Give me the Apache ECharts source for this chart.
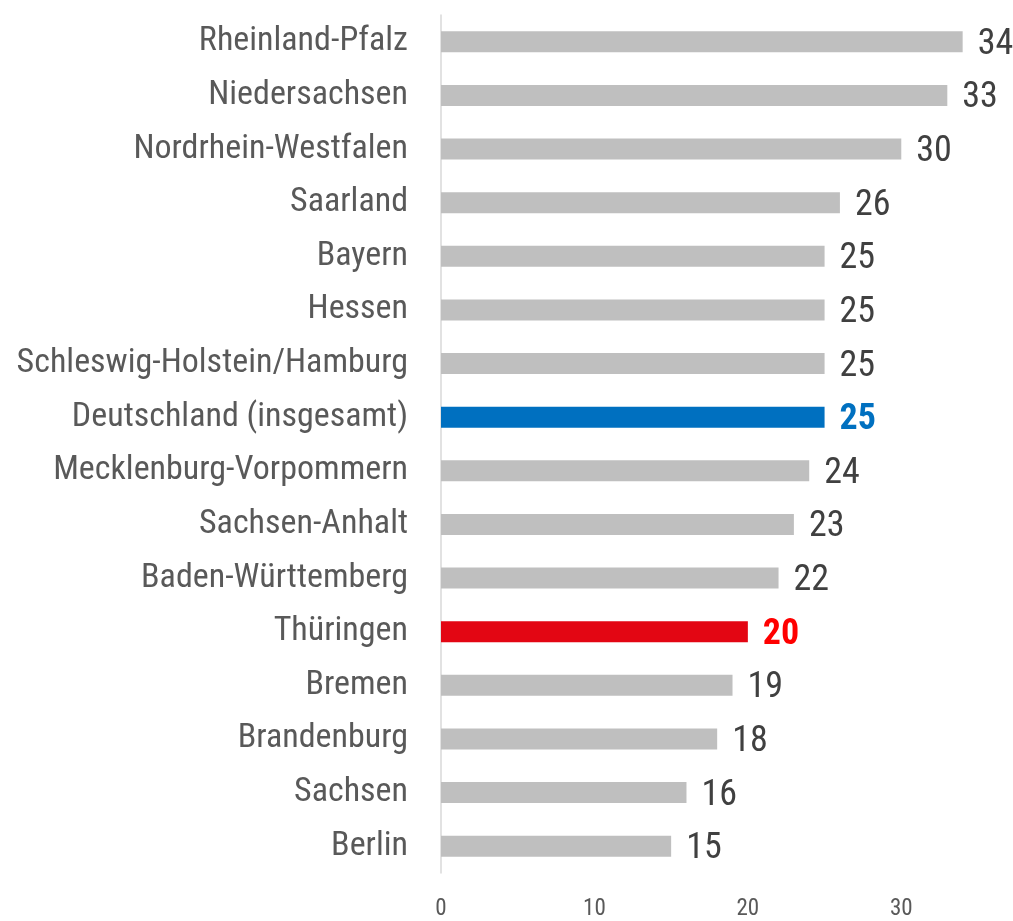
<!DOCTYPE html>
<html>
<head>
<meta charset="utf-8">
<title>Bundesländer</title>
<style>
  * { margin: 0; padding: 0; box-sizing: border-box; }
  body { width: 1013px; height: 921px; background: #ffffff; overflow: hidden; }
  #chart { width: 1013px; height: 921px; }
</style>
<script src="https://cdn.jsdelivr.net/npm/echarts@6/dist/echarts.min.js"></script>
</head>
<body>
<div id="chart"></div>
<script>
// Kategorien von oben nach unten
const laender = [
  'Rheinland-Pfalz', 'Niedersachsen', 'Nordrhein-Westfalen', 'Saarland',
  'Bayern', 'Hessen', 'Schleswig-Holstein/Hamburg', 'Deutschland (insgesamt)',
  'Mecklenburg-Vorpommern', 'Sachsen-Anhalt', 'Baden-Württemberg', 'Thüringen',
  'Bremen', 'Brandenburg', 'Sachsen', 'Berlin'
];
const werte = [34, 33, 30, 26, 25, 25, 25, 25, 24, 23, 22, 20, 19, 18, 16, 15];
const achsenTicks = [0, 10, 20, 30];

// Hervorhebungen
const highlight = {
  'Deutschland (insgesamt)': { bar: '#0070C0', label: '#0070C0' },
  'Thüringen': { bar: '#E30613', label: '#FF0000' }
};

const fontFamily = '"Roboto Condensed", "Liberation Sans Narrow", "Arial Narrow", sans-serif';

const data = werte.map((v, i) => {
  const h = highlight[laender[i]];
  return {
    value: v,
    itemStyle: { color: h ? h.bar : '#BFBFBF' },
    label: {
      color: h ? h.label : '#404040',
      fontWeight: h ? 'bold' : 'normal'
    }
  };
});

const chart = echarts.init(document.getElementById('chart'));
chart.setOption({
  animation: false,
  grid: { left: 441, right: 35, top: 15, bottom: 48, containLabel: false },
  xAxis: {
    type: 'value',
    min: 0,
    max: 35,
    interval: 10,
    splitLine: { show: false },
    axisLine: { show: false },
    axisTick: { show: false },
    axisLabel: {
      showMaxLabel: false,
      color: '#595959',
      fontFamily: fontFamily,
      fontSize: 23,
      margin: 25,
      formatter: v => achsenTicks.includes(v) ? String(v) : ''
    }
  },
  yAxis: {
    type: 'category',
    inverse: true,
    data: laender,
    axisLine: { show: true, lineStyle: { color: '#D9D9D9', width: 1.5 } },
    axisTick: { show: false },
    axisLabel: {
      color: '#595959',
      fontFamily: fontFamily,
      fontSize: 34,
      margin: 33,
      padding: [5, 0, 0, 0]
    }
  },
  series: [{
    type: 'bar',
    data: data,
    barWidth: 21,
    label: {
      show: true,
      position: 'right',
      distance: 15,
      offset: [0, 3],
      fontFamily: fontFamily,
      fontSize: 36
    }
  }]
});
</script>
</body>
</html>
